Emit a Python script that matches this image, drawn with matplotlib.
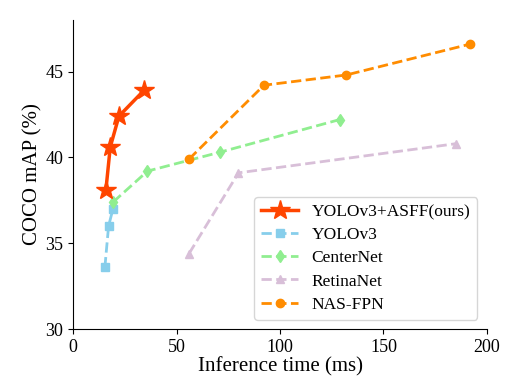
import matplotlib
matplotlib.use('Agg')
from matplotlib import pyplot as plt

plt.rcParams['font.family'] = ['Liberation Serif', 'DejaVu Serif']

asff_t = [15.8, 17.9, 22.1, 34.2]
asff_map = [38.1, 40.6, 42.4, 43.9]
yolo_t = [15.3, 17.1, 19.2]
yolo_map = [33.6, 36.0, 37.0]
center_t = [19.3, 35.9, 70.9, 128.8]
center_map = [37.4, 39.2, 40.3, 42.2]
retina_t = [56.0, 79.9, 185.2]
retina_map = [34.4, 39.1, 40.8]
nas_t = [56.0, 92.2, 132.1, 192.0]
nas_map = [39.9, 44.2, 44.8, 46.6]

fig = plt.figure(figsize=(5.23, 3.77), dpi=100)
ax = fig.add_axes([0.14, 0.127, 0.791, 0.82])

ax.plot(asff_t, asff_map, '-*', color='#ff4500', lw=2.5, ms=15, label='YOLOv3+ASFF(ours)', zorder=5)
ax.plot(yolo_t, yolo_map, '--s', color='#87ceeb', lw=2, ms=6, label='YOLOv3')
ax.plot(center_t, center_map, '--d', color='#90ee90', lw=2, ms=6, label='CenterNet')
ax.plot(retina_t, retina_map, '--^', color='#d8bfd8', lw=2, ms=6, label='RetinaNet')
ax.plot(nas_t, nas_map, '--o', color='#ff8c00', lw=2, ms=6, label='NAS-FPN')

ax.set_xlim(0, 200)
ax.set_ylim(30, 48)
ax.set_xticks([0, 50, 100, 150, 200])
ax.set_yticks([30, 35, 40, 45])
ax.tick_params(labelsize=13)
ax.spines['top'].set_visible(False)
ax.spines['right'].set_visible(False)
ax.set_xlabel('Inference time (ms)', fontsize=15, labelpad=1)
ax.set_ylabel('COCO mAP (%)', fontsize=15, labelpad=2)
ax.legend(loc='lower right', fontsize=12.5, handlelength=2.1, labelspacing=0.4,
          borderaxespad=0.55)

fig.savefig('out.png', dpi=100)
